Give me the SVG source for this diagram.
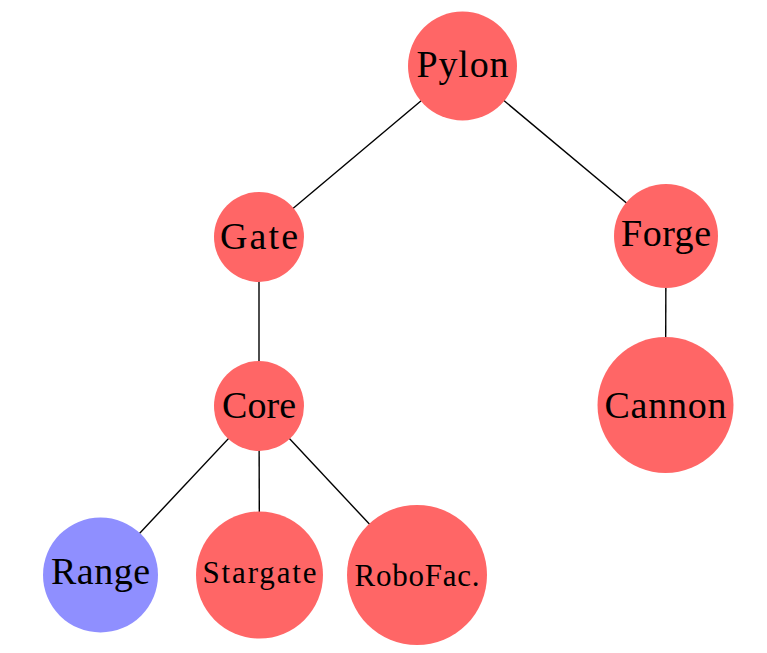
<svg xmlns="http://www.w3.org/2000/svg" width="767" height="653" viewBox="0 0 767 653">
<style>
.n{fill:#FF6666}
.b{fill:#8F8FFF}
.t{font-family:"Liberation Serif","DejaVu Serif",serif;font-size:38px;fill:#000;text-anchor:middle}
.s{font-family:"Liberation Serif","DejaVu Serif",serif;font-size:31px;fill:#000;text-anchor:middle}
.e{stroke:#000;stroke-width:1.4;fill:none}
</style>
<rect width="767" height="653" fill="#fff"/>
<g id="connectors" class="e">
<line x1="462.5" y1="66" x2="259" y2="237"/>
<line x1="462.5" y1="66" x2="666" y2="236"/>
<line x1="259" y1="237" x2="259" y2="406"/>
<line x1="666" y1="236" x2="665.5" y2="405"/>
<line x1="259" y1="406" x2="100.5" y2="575"/>
<line x1="259" y1="406" x2="259.5" y2="575"/>
<line x1="259" y1="406" x2="417" y2="575"/>
</g>
<g id="pylon"><circle class="n" cx="462.5" cy="66" r="54.5"/><text class="t" x="462.5" y="76.5" textLength="92">Pylon</text></g>
<g id="gate"><circle class="n" cx="259" cy="237" r="45"/><text class="t" x="259" y="249" textLength="78">Gate</text></g>
<g id="forge"><circle class="n" cx="666" cy="236" r="52"/><text class="t" x="666" y="246" textLength="90">Forge</text></g>
<g id="core"><circle class="n" cx="259" cy="406" r="45"/><text class="t" x="259" y="418" textLength="74">Core</text></g>
<g id="cannon"><circle class="n" cx="665.5" cy="405" r="68"/><text class="t" x="665.5" y="417.5" textLength="122">Cannon</text></g>
<g id="range"><circle class="b" cx="100.5" cy="575" r="57.5"/><text class="t" x="100.5" y="584" textLength="99">Range</text></g>
<g id="stargate"><circle class="n" cx="259.5" cy="575" r="63.5"/><text class="s" x="259.5" y="583" textLength="114">Stargate</text></g>
<g id="robofac"><circle class="n" cx="417" cy="575" r="70"/><text class="s" x="417" y="585.5" textLength="125">RoboFac.</text></g>
</svg>
